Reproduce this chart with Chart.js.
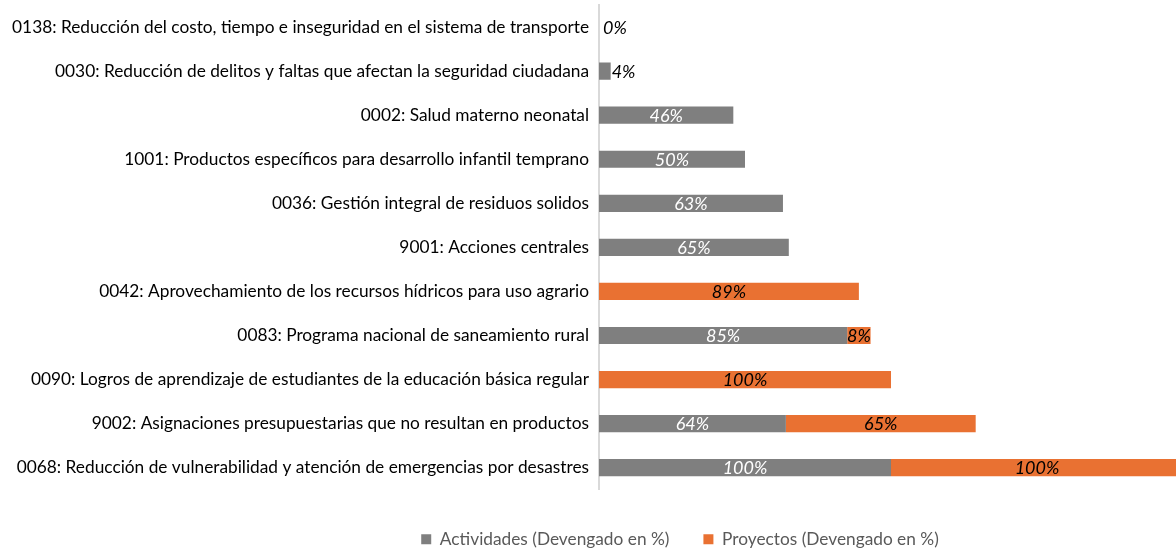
<!DOCTYPE html>
<html>
<head>
<meta charset="utf-8">
<script src="https://cdn.jsdelivr.net/npm/chart.js@4/dist/chart.umd.min.js"></script>
<style>
html,body{margin:0;padding:0;background:#fff;}
#wrap{width:1176px;height:551px;position:relative;}
</style>
</head>
<body>
<div id="wrap"><canvas id="c"></canvas></div>
<script>
const categories = [
  "0138: Reducción del costo, tiempo e inseguridad en el sistema de transporte",
  "0030: Reducción de delitos y faltas que afectan la seguridad ciudadana",
  "0002: Salud materno neonatal",
  "1001: Productos específicos para desarrollo infantil temprano",
  "0036: Gestión integral de residuos solidos",
  "9001: Acciones centrales",
  "0042: Aprovechamiento de los recursos hídricos para uso agrario",
  "0083: Programa nacional de saneamiento rural",
  "0090: Logros de aprendizaje de estudiantes de la educación básica regular",
  "9002: Asignaciones presupuestarias que no resultan en productos",
  "0068: Reducción de vulnerabilidad y atención de emergencias por desastres"
];
const actividades = [0, 4, 46, 50, 63, 65, null, 85, null, 64, 100];
const proyectos = [null, null, null, null, null, null, 89, 8, 100, 65, 100];
const seriesNames = ["Actividades (Devengado en %)", "Proyectos (Devengado en %)"];

const FONT = "Lato";

const labelPlugin = {
  id: 'barLabels',
  afterDatasetsDraw(chart) {
    const ctx = chart.ctx;
    ctx.save();
    ctx.font = 'italic 18px ' + FONT;
    ctx.textBaseline = 'middle';
    chart.data.datasets.forEach((ds, di) => {
      const meta = chart.getDatasetMeta(di);
      meta.data.forEach((bar, i) => {
        const v = ds.data[i];
        if (v === null || v === undefined) return;
        const txt = v + '%';
        const w = ctx.measureText(txt).width;
        const left = Math.min(bar.base, bar.x);
        const right = Math.max(bar.base, bar.x);
        const bw = right - left;
        if (w > bw + 4) {
          ctx.fillStyle = '#000';
          ctx.textAlign = 'left';
          ctx.fillText(txt, right + (bw > 0 ? 1 : 4), bar.y + 1);
        } else {
          ctx.fillStyle = di === 0 ? '#ffffff' : '#000';
          ctx.textAlign = 'center';
          ctx.fillText(txt, (left + right) / 2, bar.y + 1);
        }
      });
    });
    ctx.restore();
  }
};

const legendShift = {
  id: 'legendShift',
  afterLayout(chart) {
    const L = chart.legend;
    if (!L) return;
    const dx = 92, dy = 7;
    L.left += dx; L.right += dx; L.top += dy; L.bottom += dy;
  }
};

new Chart(document.getElementById('c'), {
  type: 'bar',
  data: {
    labels: categories,
    datasets: [
      { label: seriesNames[0], data: actividades, backgroundColor: '#7f7f7f', barPercentage: 0.39, categoryPercentage: 1 },
      { label: seriesNames[1], data: proyectos, backgroundColor: '#e97132', barPercentage: 0.39, categoryPercentage: 1 }
    ]
  },
  options: {
    indexAxis: 'y',
    responsive: true,
    maintainAspectRatio: false,
    animation: false,
    layout: { padding: { top: 5, left: 0, right: 0, bottom: 0 } },
    scales: {
      x: { stacked: true, display: false, min: 0, max: 197.6 },
      y: {
        stacked: true,
        grid: { display: false, drawTicks: false },
        border: { display: true, color: '#d9d9d9', width: 2 },
        ticks: { color: '#000', font: { family: FONT, size: 17.3 }, padding: 10, autoSkip: false },
        afterFit(scale) { scale.width = 599; scale.paddingTop = 0; scale.paddingBottom = 0; }
      }
    },
    plugins: {
      legend: {
        position: 'bottom',
        labels: {
          boxWidth: 10, boxHeight: 10, padding: 34,
          color: '#595959',
          font: { family: FONT, size: 17.3 }
        }
      },
      tooltip: { enabled: false }
    }
  },
  plugins: [labelPlugin, legendShift]
});
</script>
</body>
</html>
